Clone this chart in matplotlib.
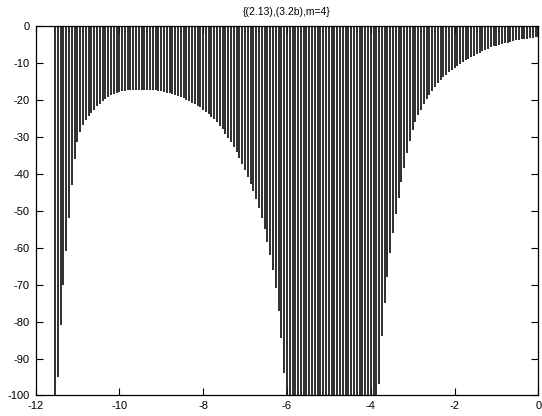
import numpy as np
import matplotlib
matplotlib.use('Agg')
from matplotlib import pyplot as plt

# sample grid (first impulse ~ -11.53, last at 0, 174 impulses)
x_first = -11.533
x_last = 0.0
n_samples = 174

y_left = [-130, -95, -81, -70, -61, -52, -43, -36, -31.5, -28.6,
          -26.8, -25.4, -24.4, -23.5, -22.6, -21.6, -21.0, -20.3, -19.7, -19.1,
          -18.7, -18.4, -18.1, -17.8, -17.6, -17.5, -17.4, -17.3, -17.2, -17.2,
          -17.2, -17.2, -17.2, -17.3, -17.3, -17.3, -17.4, -17.5]
y_hump = [-17.6, -17.8, -18.0, -18.2, -18.4, -18.7, -19.0, -19.3, -19.6, -20.0,
          -20.4, -20.8, -21.2, -21.6, -22.0, -22.6, -23.2, -23.8, -24.5, -25.3,
          -26.1, -27.0, -28.0, -29.1, -30.2, -31.4, -32.8, -34.2, -35.7, -37.3,
          -39.0, -40.8, -42.7, -44.6, -46.8, -49.2, -51.9, -55.0, -58.4, -62.0,
          -66.0, -71.0, -77.0, -84.5, -94.0, -110]
y_gap = [-125, -135, -140, -145, -150, -150, -155, -155, -160, -160,
         -160, -160, -160, -160, -160, -160, -160, -160, -155, -155,
         -155, -150, -150, -145, -145, -140, -140, -135, -135, -130]
y_right = [-130, -112, -97, -84, -75, -68, -61.5, -56, -51, -46.5,
           -42.3, -38.3, -34.3, -31.0, -28.2, -26.0, -24.2, -22.6, -21.1, -19.8,
           -18.6, -17.5, -16.5, -15.5, -14.7, -13.9, -13.2, -12.5, -11.9, -11.3,
           -10.7, -10.2, -9.7, -9.2, -8.8, -8.4, -8.0, -7.6, -7.2, -6.8,
           -6.4, -6.1, -5.8, -5.5, -5.3, -5.1, -4.9, -4.7, -4.5, -4.3,
           -4.1, -3.9, -3.75, -3.6, -3.5, -3.4, -3.3, -3.2, -3.1, -3.0]

x_ticks = [-12, -10, -8, -6, -4, -2, 0]
y_ticks = [0, -10, -20, -30, -40, -50, -60, -70, -80, -90, -100]
title = '{(2.13),(3.2b),m=4}'

xs = np.linspace(x_first, x_last, n_samples)
ys = np.array(y_left + y_hump + y_gap + y_right)

plt.rcParams['font.family'] = ['Liberation Sans', 'DejaVu Sans']

fig = plt.figure(figsize=(5.42, 4.16), dpi=100)
ax = fig.add_axes([0.0655, 0.0493, 0.9277, 0.8882])

ax.vlines(xs, ys, 0, colors='#151515', linewidth=1.25)

ax.set_xlim(-12, 0)
ax.set_ylim(-100, 0)
ax.set_xticks(x_ticks)
ax.set_yticks(y_ticks)
ax.set_xticklabels([str(t) for t in x_ticks])
ax.set_yticklabels([str(t) for t in y_ticks])
ax.tick_params(direction='in', length=5, width=0.8, top=True, right=True,
               labelsize=8, pad=4)
for s in ax.spines.values():
    s.set_linewidth(0.9)

fig.text(0.5296, 0.97, title, ha='center', va='center', fontsize=7.5)

fig.savefig('out.png', dpi=100)
